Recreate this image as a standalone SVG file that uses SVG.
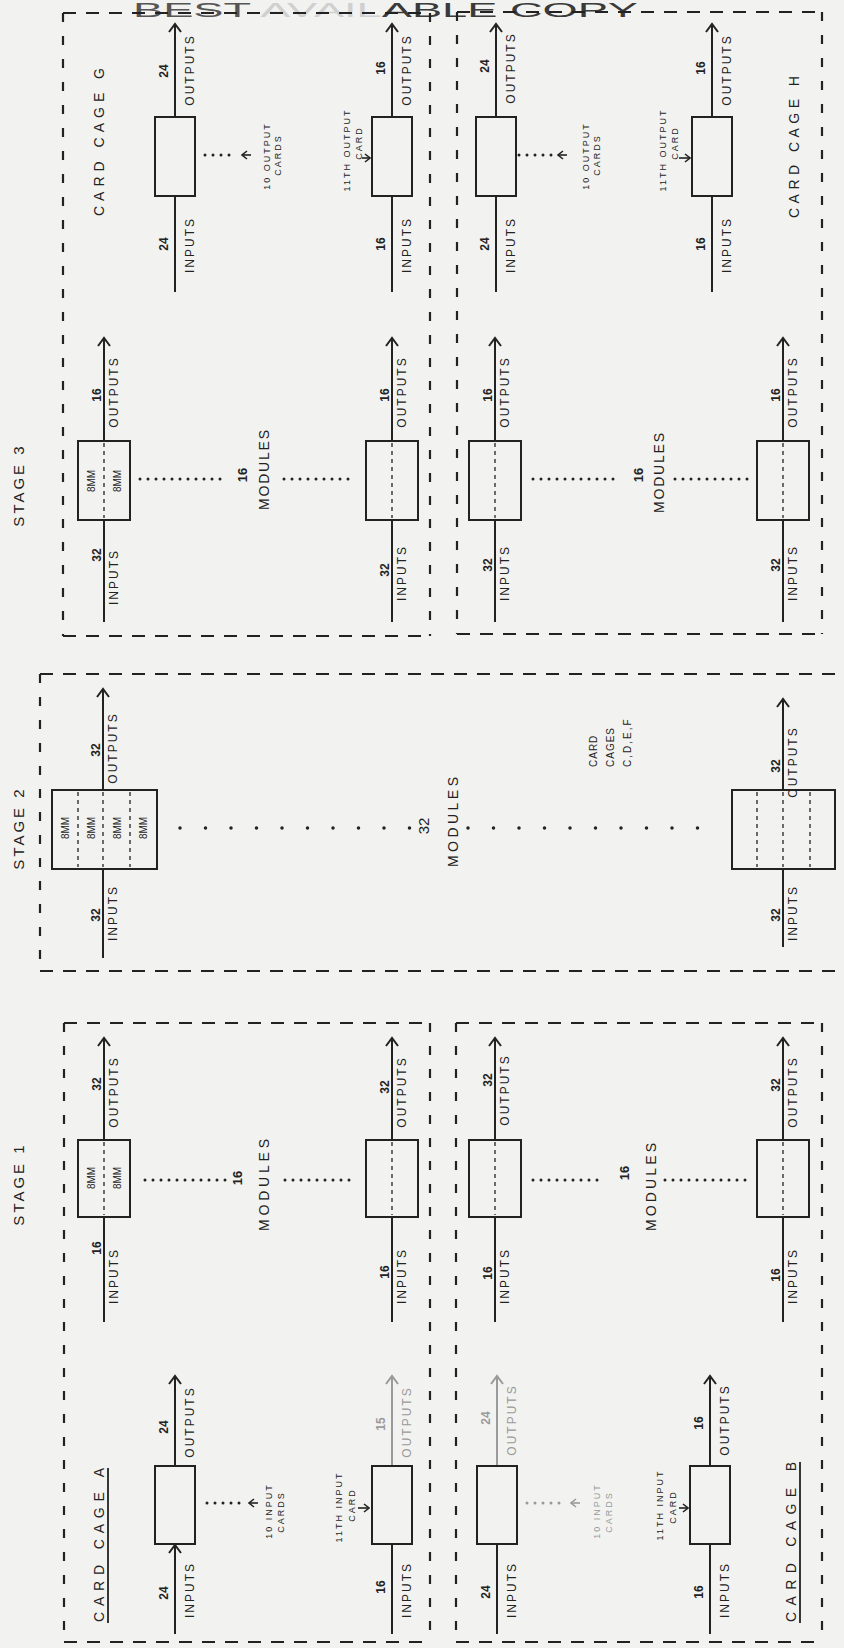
<svg xmlns="http://www.w3.org/2000/svg" width="844" height="1648" viewBox="0 0 844 1648">
<defs>
<style>
.bg{fill:#f2f2f0}
.ln{stroke:#222;stroke-width:2;fill:none}
.box{stroke:#222;stroke-width:2;fill:none}
.bd{stroke:#222;stroke-width:2.2;fill:none;stroke-dasharray:13 10}
.bdv{stroke:#222;stroke-width:2.2;fill:none;stroke-dasharray:9 14}
.inr{stroke:#222;stroke-width:1.3;fill:none;stroke-dasharray:4 4}
.dots{stroke:#222;stroke-width:3;stroke-linecap:round;stroke-dasharray:0 8;fill:none}
.dots2{stroke:#222;stroke-width:3.5;stroke-linecap:round;stroke-dasharray:0 25.5;fill:none}
.ul{stroke:#222;stroke-width:1.8;fill:none}
text{font-family:"Liberation Sans",Arial,sans-serif;fill:#222}
.l{font-size:12px;letter-spacing:2px;text-anchor:middle}
.n{font-size:12px;font-weight:bold;text-anchor:middle}
.s{font-size:9px;letter-spacing:2px;text-anchor:middle}
.m{font-size:10px;text-anchor:middle}
.big{font-size:15px;letter-spacing:3px;text-anchor:middle}
.cage{font-size:14px;text-anchor:middle}
.mod{font-size:14px;text-anchor:middle}
.fade{fill:#9a9a9a}
.fl{stroke:#9a9a9a}
</style>
<marker id="ah" viewBox="-10 -8 12 16" refX="0" refY="0" markerWidth="12" markerHeight="16" markerUnits="userSpaceOnUse" orient="auto"><path d="M-8,-6 L0,0 L-8,6" fill="none" stroke="#222" stroke-width="2"/></marker>
<marker id="ahf" viewBox="-10 -8 12 16" refX="0" refY="0" markerWidth="12" markerHeight="16" markerUnits="userSpaceOnUse" orient="auto"><path d="M-8,-6 L0,0 L-8,6" fill="none" stroke="#9a9a9a" stroke-width="2"/></marker>
<marker id="sa" viewBox="-7 -5 8 10" refX="0" refY="0" markerWidth="8" markerHeight="10" markerUnits="userSpaceOnUse" orient="auto"><path d="M-5,-4 L0,0 L-5,4" fill="none" stroke="#222" stroke-width="1.6"/></marker>
<marker id="saf" viewBox="-7 -5 8 10" refX="0" refY="0" markerWidth="8" markerHeight="10" markerUnits="userSpaceOnUse" orient="auto"><path d="M-5,-4 L0,0 L-5,4" fill="none" stroke="#9a9a9a" stroke-width="1.6"/></marker>
</defs>
<rect class="bg" x="0" y="0" width="844" height="1648"/>

<g id="title">
<text x="133" y="17" style="font-size:21px" textLength="505" lengthAdjust="spacingAndGlyphs"><tspan fill="#555">BEST </tspan><tspan fill="#d0d0d0">AVAIL</tspan><tspan fill="#3a3a3a">ABLE COPY</tspan></text>
</g>

<g id="frames">
<path class="bd" d="M63,13 H430 M63,636 H430"/>
<path class="bdv" d="M63,13 V636 M430,13 V636"/>
<path class="bd" d="M457,12 H822 M457,634 H822"/>
<path class="bdv" d="M457,12 V634 M822,12 V634"/>
<path class="bd" d="M40,674 H844 M40,971 H844"/>
<path class="bdv" d="M40,674 V971"/>
<path class="bd" d="M64,1023 H430 M64,1642 H430"/>
<path class="bdv" d="M64,1023 V1642 M430,1023 V1642"/>
<path class="bd" d="M456,1023 H822 M456,1642 H822"/>
<path class="bdv" d="M456,1023 V1642 M822,1023 V1642"/>
</g>

<g id="stage-labels">
<text class="big" transform="translate(24,485) rotate(-90)">STAGE 3</text>
<text class="big" transform="translate(24,828) rotate(-90)">STAGE 2</text>
<text class="big" transform="translate(24,1184) rotate(-90)">STAGE 1</text>
<text class="cage" transform="translate(104,142) rotate(-90)" textLength="148" lengthAdjust="spacing">CARD CAGE G</text>
<text class="cage" transform="translate(799,147) rotate(-90)" textLength="142" lengthAdjust="spacing">CARD CAGE H</text>
<text class="cage" transform="translate(104,1545) rotate(-90)" textLength="154" lengthAdjust="spacing">CARD CAGE A</text>
<path class="ul" d="M108,1468 V1623"/>
<text class="cage" transform="translate(796,1542) rotate(-90)" textLength="160" lengthAdjust="spacing">CARD CAGE B</text>
<path class="ul" d="M800,1462 V1623"/>
</g>

<g id="connectors">
<path class="ln" d="M175,117 V24" marker-end="url(#ah)"/><path class="ln" d="M175,292 V196"/>
<path class="ln" d="M392,117 V24" marker-end="url(#ah)"/><path class="ln" d="M392,292 V196"/>
<path class="ln" d="M496,117 V24" marker-end="url(#ah)"/><path class="ln" d="M496,292 V196"/>
<path class="ln" d="M712,117 V24" marker-end="url(#ah)"/><path class="ln" d="M712,292 V196"/>
<path class="ln" d="M104,441 V338" marker-end="url(#ah)"/><path class="ln" d="M104,622 V520"/>
<path class="ln" d="M392,441 V338" marker-end="url(#ah)"/><path class="ln" d="M392,622 V520"/>
<path class="ln" d="M495,441 V338" marker-end="url(#ah)"/><path class="ln" d="M495,622 V520"/>
<path class="ln" d="M783,441 V338" marker-end="url(#ah)"/><path class="ln" d="M783,622 V520"/>
<path class="ln" d="M103,790 V689" marker-end="url(#ah)"/><path class="ln" d="M103,958 V869"/>
<path class="ln" d="M783,790 V699" marker-end="url(#ah)"/><path class="ln" d="M783,947 V869"/>
<path class="ln" d="M104,1140 V1038" marker-end="url(#ah)"/><path class="ln" d="M104,1322 V1217"/>
<path class="ln" d="M392,1140 V1038" marker-end="url(#ah)"/><path class="ln" d="M392,1322 V1217"/>
<path class="ln" d="M495,1140 V1038" marker-end="url(#ah)"/><path class="ln" d="M495,1322 V1217"/>
<path class="ln" d="M783,1140 V1038" marker-end="url(#ah)"/><path class="ln" d="M783,1322 V1217"/>
<path class="ln" d="M175,1466 V1376" marker-end="url(#ah)"/><path class="ln" d="M175,1634 V1545" marker-end="url(#ah)"/>
<path class="ln fl" d="M392,1466 V1376" marker-end="url(#ahf)"/><path class="ln" d="M392,1634 V1544"/>
<path class="ln fl" d="M497,1466 V1376" marker-end="url(#ahf)"/><path class="ln" d="M497,1634 V1544"/>
<path class="ln" d="M710,1466 V1376" marker-end="url(#ah)"/><path class="ln" d="M710,1634 V1544"/>

<text class="n" transform="translate(168,71) rotate(-90)">24</text><text class="l" transform="translate(194,70) rotate(-90)">OUTPUTS</text>
<text class="n" transform="translate(168,244) rotate(-90)">24</text><text class="l" transform="translate(194,245) rotate(-90)">INPUTS</text>
<text class="n" transform="translate(385,68) rotate(-90)">16</text><text class="l" transform="translate(411,70) rotate(-90)">OUTPUTS</text>
<text class="n" transform="translate(385,244) rotate(-90)">16</text><text class="l" transform="translate(411,245) rotate(-90)">INPUTS</text>
<text class="n" transform="translate(489,66) rotate(-90)">24</text><text class="l" transform="translate(515,68) rotate(-90)">OUTPUTS</text>
<text class="n" transform="translate(489,244) rotate(-90)">24</text><text class="l" transform="translate(515,245) rotate(-90)">INPUTS</text>
<text class="n" transform="translate(705,68) rotate(-90)">16</text><text class="l" transform="translate(731,70) rotate(-90)">OUTPUTS</text>
<text class="n" transform="translate(705,244) rotate(-90)">16</text><text class="l" transform="translate(731,245) rotate(-90)">INPUTS</text>
<text class="n" transform="translate(101,395) rotate(-90)">16</text><text class="l" transform="translate(118,392) rotate(-90)">OUTPUTS</text>
<text class="n" transform="translate(101,555) rotate(-90)">32</text><text class="l" transform="translate(118,577) rotate(-90)">INPUTS</text>
<text class="n" transform="translate(389,395) rotate(-90)">16</text><text class="l" transform="translate(406,392) rotate(-90)">OUTPUTS</text>
<text class="n" transform="translate(389,570) rotate(-90)">32</text><text class="l" transform="translate(406,573) rotate(-90)">INPUTS</text>
<text class="n" transform="translate(492,395) rotate(-90)">16</text><text class="l" transform="translate(509,392) rotate(-90)">OUTPUTS</text>
<text class="n" transform="translate(492,565) rotate(-90)">32</text><text class="l" transform="translate(509,573) rotate(-90)">INPUTS</text>
<text class="n" transform="translate(780,395) rotate(-90)">16</text><text class="l" transform="translate(797,392) rotate(-90)">OUTPUTS</text>
<text class="n" transform="translate(780,565) rotate(-90)">32</text><text class="l" transform="translate(797,573) rotate(-90)">INPUTS</text>
<text class="n" transform="translate(100,750) rotate(-90)">32</text><text class="l" transform="translate(117,748) rotate(-90)">OUTPUTS</text>
<text class="n" transform="translate(100,915) rotate(-90)">32</text><text class="l" transform="translate(117,913) rotate(-90)">INPUTS</text>
<text class="n" transform="translate(780,766) rotate(-90)">32</text><text class="l" transform="translate(797,762) rotate(-90)">OUTPUTS</text>
<text class="n" transform="translate(780,915) rotate(-90)">32</text><text class="l" transform="translate(797,913) rotate(-90)">INPUTS</text>
<text class="n" transform="translate(101,1084) rotate(-90)">32</text><text class="l" transform="translate(118,1092) rotate(-90)">OUTPUTS</text>
<text class="n" transform="translate(101,1248) rotate(-90)">16</text><text class="l" transform="translate(118,1276) rotate(-90)">INPUTS</text>
<text class="n" transform="translate(389,1087) rotate(-90)">32</text><text class="l" transform="translate(406,1092) rotate(-90)">OUTPUTS</text>
<text class="n" transform="translate(389,1272) rotate(-90)">16</text><text class="l" transform="translate(406,1276) rotate(-90)">INPUTS</text>
<text class="n" transform="translate(492,1080) rotate(-90)">32</text><text class="l" transform="translate(509,1090) rotate(-90)">OUTPUTS</text>
<text class="n" transform="translate(492,1273) rotate(-90)">16</text><text class="l" transform="translate(509,1276) rotate(-90)">INPUTS</text>
<text class="n" transform="translate(780,1085) rotate(-90)">32</text><text class="l" transform="translate(797,1092) rotate(-90)">OUTPUTS</text>
<text class="n" transform="translate(780,1275) rotate(-90)">16</text><text class="l" transform="translate(797,1276) rotate(-90)">INPUTS</text>
<text class="n" transform="translate(168,1427) rotate(-90)">24</text><text class="l" transform="translate(194,1422) rotate(-90)">OUTPUTS</text>
<text class="n" transform="translate(168,1593) rotate(-90)">24</text><text class="l" transform="translate(194,1590) rotate(-90)">INPUTS</text>
<text class="n fade" transform="translate(385,1424) rotate(-90)">15</text><text class="l fade" transform="translate(411,1422) rotate(-90)">OUTPUTS</text>
<text class="n" transform="translate(385,1587) rotate(-90)">16</text><text class="l" transform="translate(411,1590) rotate(-90)">INPUTS</text>
<text class="n fade" transform="translate(490,1418) rotate(-90)">24</text><text class="l fade" transform="translate(516,1420) rotate(-90)">OUTPUTS</text>
<text class="n" transform="translate(490,1592) rotate(-90)">24</text><text class="l" transform="translate(516,1590) rotate(-90)">INPUTS</text>
<text class="n" transform="translate(703,1423) rotate(-90)">16</text><text class="l" transform="translate(729,1420) rotate(-90)">OUTPUTS</text>
<text class="n" transform="translate(703,1592) rotate(-90)">16</text><text class="l" transform="translate(729,1590) rotate(-90)">INPUTS</text>
</g>

<g id="cage-g">
<rect class="box" x="155" y="117" width="40" height="79"/>
<rect class="box" x="372" y="117" width="40" height="79"/>
<path class="dots" d="M205,155 H236"/>
<path class="ln" d="M251,155 H242" marker-end="url(#sa)" style="stroke-width:1.6"/>
<text class="s" transform="translate(270,156) rotate(-90)">10 OUTPUT</text>
<text class="s" transform="translate(281,155) rotate(-90)">CARDS</text>
<text class="s" transform="translate(350,150) rotate(-90)">11TH OUTPUT</text>
<text class="s" transform="translate(362,143) rotate(-90)">CARD</text>
<path class="ln" d="M362,158 H370" marker-end="url(#sa)" style="stroke-width:1.6"/>
</g>

<g id="cage-h">
<rect class="box" x="476" y="117" width="40" height="79"/>
<rect class="box" x="692" y="117" width="40" height="79"/>
<path class="dots" d="M519,155 H552"/>
<path class="ln" d="M567,155 H558" marker-end="url(#sa)" style="stroke-width:1.6"/>
<text class="s" transform="translate(589,156) rotate(-90)">10 OUTPUT</text>
<text class="s" transform="translate(600,155) rotate(-90)">CARDS</text>
<text class="s" transform="translate(666,150) rotate(-90)">11TH OUTPUT</text>
<text class="s" transform="translate(678,143) rotate(-90)">CARD</text>
<path class="ln" d="M679,158 H690" marker-end="url(#sa)" style="stroke-width:1.6"/>
</g>

<g id="stage3-modules-g">
<rect class="box" x="78" y="441" width="52" height="79"/><path class="inr" d="M104,443 V518"/>
<text class="m" transform="translate(95,481) rotate(-90)">8MM</text>
<text class="m" transform="translate(121,481) rotate(-90)">8MM</text>
<rect class="box" x="366" y="441" width="52" height="79"/><path class="inr" d="M392,443 V518"/>
<path class="dots" d="M140,479 H228 M284,479 H356"/>
<text class="n" style="font-size:13px" transform="translate(247,475) rotate(-90)">16</text>
<text class="mod" transform="translate(269,470) rotate(-90)" textLength="80" lengthAdjust="spacing">MODULES</text>
</g>
<g id="stage3-modules-h">
<rect class="box" x="469" y="441" width="52" height="79"/><path class="inr" d="M495,443 V518"/>
<rect class="box" x="757" y="441" width="52" height="79"/><path class="inr" d="M783,443 V518"/>
<path class="dots" d="M533,479 H617 M675,479 H749"/>
<text class="n" style="font-size:13px" transform="translate(643,475) rotate(-90)">16</text>
<text class="mod" transform="translate(664,473) rotate(-90)" textLength="80" lengthAdjust="spacing">MODULES</text>
</g>

<g id="stage2-modules">
<rect class="box" x="52" y="790" width="105" height="79"/>
<path class="inr" d="M78,792 V867 M103,792 V867 M130,792 V867"/>
<text class="m" transform="translate(69,828) rotate(-90)">8MM</text>
<text class="m" transform="translate(95,828) rotate(-90)">8MM</text>
<text class="m" transform="translate(121,828) rotate(-90)">8MM</text>
<text class="m" transform="translate(147,828) rotate(-90)">8MM</text>
<rect class="box" x="732" y="790" width="103" height="79"/>
<path class="inr" d="M757,792 V867 M783,792 V867 M810,792 V867"/>
<path class="dots2" d="M180,828 H410 M468,828 H705"/>
<text class="n" style="font-size:15px;font-weight:normal" transform="translate(429,826) rotate(-90)">32</text>
<text class="mod" transform="translate(458,822) rotate(-90)" textLength="90" lengthAdjust="spacing">MODULES</text>
<text style="font-size:10px;letter-spacing:1px" transform="translate(597,767) rotate(-90)">CARD</text>
<text style="font-size:10px;letter-spacing:1px" transform="translate(614,767) rotate(-90)">CAGES</text>
<text style="font-size:10px;letter-spacing:2px" transform="translate(631,767) rotate(-90)">C,D,E,F</text>
</g>

<g id="stage1-modules-a">
<rect class="box" x="78" y="1140" width="52" height="77"/><path class="inr" d="M104,1142 V1215"/>
<text class="m" transform="translate(95,1178) rotate(-90)">8MM</text>
<text class="m" transform="translate(121,1178) rotate(-90)">8MM</text>
<rect class="box" x="366" y="1140" width="52" height="77"/><path class="inr" d="M392,1142 V1215"/>
<path class="dots" d="M145,1180 H227 M285,1180 H356"/>
<text class="n" style="font-size:13px" transform="translate(242,1178) rotate(-90)">16</text>
<text class="mod" transform="translate(269,1185) rotate(-90)" textLength="92" lengthAdjust="spacing">MODULES</text>
</g>
<g id="stage1-modules-b">
<rect class="box" x="469" y="1140" width="52" height="77"/><path class="inr" d="M495,1142 V1215"/>
<rect class="box" x="757" y="1140" width="52" height="77"/><path class="inr" d="M783,1142 V1215"/>
<path class="dots" d="M533,1180 H604 M665,1180 H746"/>
<text class="n" style="font-size:13px" transform="translate(629,1173) rotate(-90)">16</text>
<text class="mod" transform="translate(656,1187) rotate(-90)" textLength="88" lengthAdjust="spacing">MODULES</text>
</g>

<g id="cage-a">
<rect class="box" x="155" y="1466" width="40" height="78"/>
<rect class="box" x="372" y="1466" width="40" height="78"/>
<path class="dots" d="M207,1503 H244"/>
<path class="ln" d="M258,1503 H249" marker-end="url(#sa)" style="stroke-width:1.6"/>
<text class="s" transform="translate(272,1511) rotate(-90)">10 INPUT</text>
<text class="s" transform="translate(284,1512) rotate(-90)">CARDS</text>
<text class="s" transform="translate(342,1507) rotate(-90)">11TH INPUT</text>
<text class="s" transform="translate(355,1505) rotate(-90)">CARD</text>
<path class="ln" d="M358,1508 H369" marker-end="url(#sa)" style="stroke-width:1.6"/>
</g>

<g id="cage-b">
<rect class="box" x="477" y="1466" width="40" height="78"/>
<rect class="box" x="690" y="1466" width="40" height="78"/>
<path class="dots fl" d="M527,1503 H566"/>
<path class="ln fl" d="M580,1503 H571" marker-end="url(#saf)" style="stroke-width:1.6"/>
<text class="s fade" transform="translate(600,1511) rotate(-90)">10 INPUT</text>
<text class="s fade" transform="translate(612,1512) rotate(-90)">CARDS</text>
<text class="s" transform="translate(663,1505) rotate(-90)">11TH INPUT</text>
<text class="s" transform="translate(676,1507) rotate(-90)">CARD</text>
<path class="ln" d="M679,1508 H688" marker-end="url(#sa)" style="stroke-width:1.6"/>
</g>
</svg>
